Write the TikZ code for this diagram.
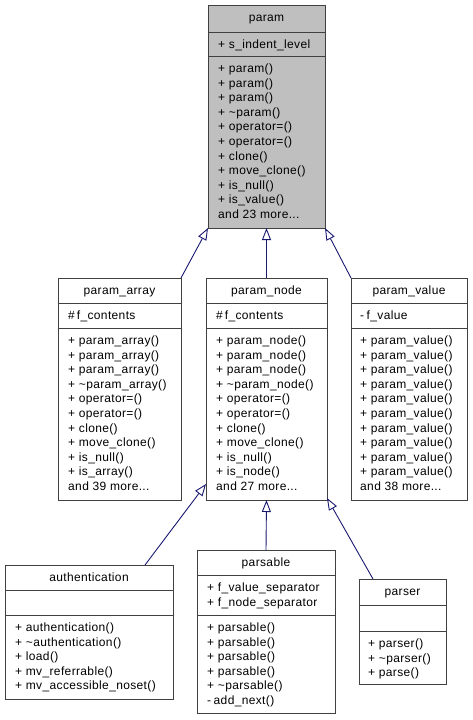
\documentclass[tikz,border=0pt]{standalone}
\usepackage{fontspec}
\setmainfont{Liberation Sans}[LetterSpace=3]
\usetikzlibrary{arrows.meta,calc}
\definecolor{edgeblue}{HTML}{191970}
\definecolor{boxline}{HTML}{404040}
\definecolor{basefill}{HTML}{BFBFBF}
\newcommand\mydots{...}
\tikzset{
  classbox/.style={draw=boxline, line width=1pt, inner sep=0pt, outer sep=0pt},
  sepline/.style={draw=boxline, line width=1pt},
  member/.style={anchor=base west, inner sep=0pt, font=\fontsize{12}{14.6}\selectfont},
  ctitle/.style={anchor=base, inner sep=0pt, font=\fontsize{12}{14.6}\selectfont},
  inherit/.style={draw=edgeblue, line width=0.9pt, -{Triangle[open, length=12pt, width=9pt, fill=white]}},
}
% #1 name, #2 left, #3 top, #4 right, #5 bottom, #6 sep1, #7 sep2, #8 fill, #9 title
\newcommand\umlbox[9]{%
  \node[classbox, fill=#8, minimum width={(#4)-(#2)}, minimum height={(#5)-(#3)}] (#1)
     at ({((#2)+(#4))/2},{((#3)+(#5))/2}) {};
  \draw[sepline] (#1.west |- 0,#6) -- (#1.east |- 0,#6);
  \draw[sepline] (#1.west |- 0,#7) -- (#1.east |- 0,#7);
  \node[ctitle] (#1-title) at ({((#2)+(#4))/2},{(#3)+16.5}) {#9};
}
% #1 prefix, #2 x, #3 compartment top, #4 list
\newcommand\umllines[4]{%
  \foreach \txt [count=\i] in {#4}
    \node[member] (#1\i) at (#2,{(#3)+16.5+14.6*(\i-1)}) {\txt};
}
\begin{document}
\begin{tikzpicture}[x=1pt,y=-1pt]
\useasboundingbox (0,0) rectangle (473,720);

% param
\umlbox{param}{208}{5}{325}{228}{32}{56}{basefill}{param}
\umllines{param-a}{218}{32}{+ s\_indent\_level}
\umllines{param-m}{218}{56}{+ param(), + param(), + param(), + \textasciitilde{}param(),
  + operator=(), + operator=(), + clone(), + move\_clone(), + is\_null(), + is\_value(), {and 23 more\mydots}}

% param_array
\umlbox{parray}{58}{278}{181}{500}{303}{328}{white}{param\_array}
\umllines{parray-a}{68}{303}{\#\hspace{2pt}f\_contents}
\umllines{parray-m}{68}{328}{+ param\_array(), + param\_array(), + param\_array(), + \textasciitilde{}param\_array(),
  + operator=(), + operator=(), + clone(), + move\_clone(), + is\_null(), + is\_array(), {and 39 more\mydots}}

% param_node
\umlbox{pnode}{206}{278}{327}{500}{303}{328}{white}{param\_node}
\umllines{pnode-a}{216}{303}{\#\hspace{2pt}f\_contents}
\umllines{pnode-m}{216}{328}{+ param\_node(), + param\_node(), + param\_node(), + \textasciitilde{}param\_node(),
  + operator=(), + operator=(), + clone(), + move\_clone(), + is\_null(), + is\_node(), {and 27 more\mydots}}

% param_value
\umlbox{pvalue}{351}{278}{467}{500}{303}{328}{white}{param\_value}
\umllines{pvalue-a}{360}{303}{-\hspace{2.5pt}f\_value}
\umllines{pvalue-m}{360}{328}{+ param\_value(), + param\_value(), + param\_value(), + param\_value(),
  + param\_value(), + param\_value(), + param\_value(), + param\_value(), + param\_value(), + param\_value(), {and 38 more\mydots}}

% authentication
\umlbox{auth}{5}{565}{173}{699}{590}{615}{white}{authentication}
\umllines{auth-m}{15}{615}{+ authentication(), + \textasciitilde{}authentication(), + load(),
  + mv\_referrable(), + mv\_accessible\_noset()}

% parsable
\umlbox{parsable}{197}{550}{335}{713}{575}{615}{white}{parsable}
\umllines{parsable-a}{207}{575}{+ f\_value\_separator, + f\_node\_separator}
\umllines{parsable-m}{207}{615}{+ parsable(), + parsable(), + parsable(), + parsable(),
  + \textasciitilde{}parsable(), -\hspace{2.5pt}add\_next()}

% parser
\umlbox{parser}{359}{579}{446}{684}{605}{631}{white}{parser}
\umllines{parser-m}{368}{631}{+ parser(), + \textasciitilde{}parser(), + parse()}

% inheritance
\draw[inherit] (parray.north east) -- (param.south west);
\draw[inherit] (pnode.north) -- (param.south);
\draw[inherit] (pvalue.north west) -- (param.south east);
\draw[inherit] ([xshift=140pt]auth.north west) -- ([yshift=16pt]pnode.south west);
\draw[inherit] (parsable.north) -- (pnode.south);
\draw[inherit] ([xshift=14pt]parser.north west) -- ([yshift=2pt]pnode.south east);
\end{tikzpicture}
\end{document}
